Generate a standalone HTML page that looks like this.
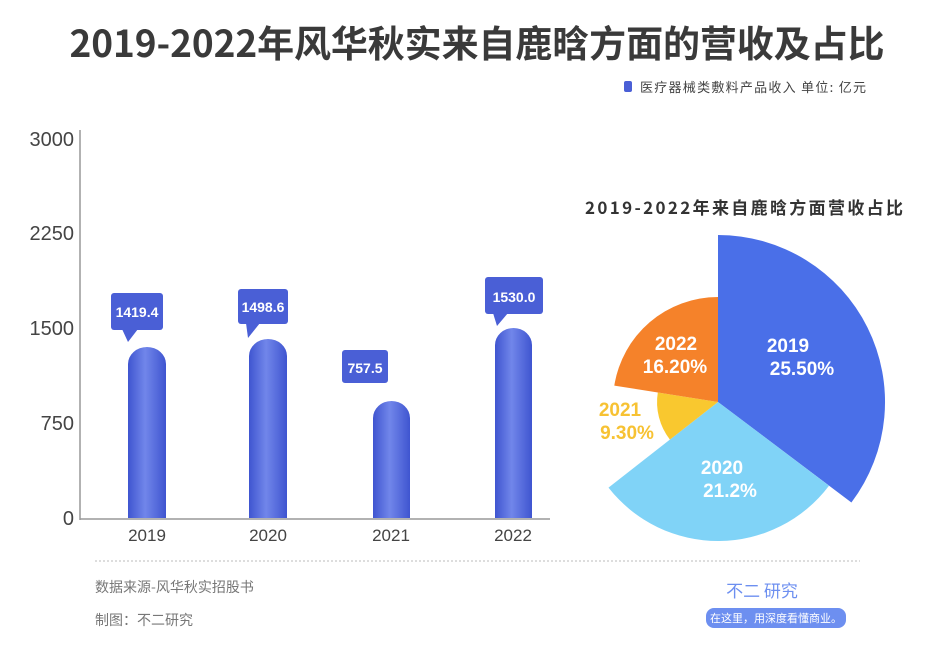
<!DOCTYPE html>
<html><head><meta charset="utf-8"><style>
body{margin:0;width:940px;height:644px;background:#fff;overflow:hidden;font-family:"Liberation Sans","Noto Sans CJK SC",sans-serif;}
</style></head><body>
<svg width="940" height="644" xmlns="http://www.w3.org/2000/svg" font-family="Liberation Sans, Noto Sans CJK SC, sans-serif">
<defs>
<linearGradient id="bg" x1="0" x2="1" y1="0" y2="0">
<stop offset="0" stop-color="#3f55d0"/><stop offset="0.45" stop-color="#7186ea"/><stop offset="1" stop-color="#3f55d0"/>
</linearGradient>
</defs>
<text x="477" y="57" text-anchor="middle" font-size="37" font-weight="bold" fill="#3a3a3a" font-family="Noto Sans CJK SC, sans-serif" textLength="815">2019-2022年风华秋实来自鹿晗方面的营收及占比</text>
<rect x="624" y="81" width="8" height="11" rx="2" fill="#4a5fd6"/>
<text x="640" y="92" font-size="13" fill="#444" font-family="Noto Sans CJK SC, sans-serif" textLength="226">医疗器械类敷料产品收入   单位: 亿元</text>
<!-- axis -->
<line x1="80" y1="130" x2="80" y2="520" stroke="#999" stroke-width="1.5"/>
<line x1="80" y1="519" x2="550" y2="519" stroke="#999" stroke-width="1.5"/>
<g font-size="20" fill="#444" text-anchor="end">
<text x="74" y="146">3000</text><text x="74" y="240">2250</text><text x="74" y="335">1500</text><text x="74" y="430">750</text><text x="74" y="525">0</text>
</g>
<g font-size="17" fill="#444" text-anchor="middle">
<text x="147" y="541">2019</text><text x="268" y="541">2020</text><text x="391" y="541">2021</text><text x="513" y="541">2022</text>
</g>
<!-- bars -->
<path d="M128 518 V364 a19 17 0 0 1 38 0 V518Z" fill="url(#bg)"/>
<path d="M249 518 V356 a19 17 0 0 1 38 0 V518Z" fill="url(#bg)"/>
<path d="M373 518 V418 a18.5 17 0 0 1 37 0 V518Z" fill="url(#bg)"/>
<path d="M495 518 V345 a18.5 17 0 0 1 37 0 V518Z" fill="url(#bg)"/>
<!-- labels -->
<g fill="#4a5fd6">
<rect x="111" y="293" width="52" height="37" rx="3"/><path d="M122 329 L128 342 L138 329Z"/>
<rect x="238" y="289" width="50" height="35" rx="3"/><path d="M246 323 L248 338 L260 323Z"/>
<rect x="342" y="350" width="46" height="33" rx="3"/>
<rect x="485" y="277" width="58" height="37" rx="3"/><path d="M493 313 L497 326 L508 313Z"/>
</g>
<g fill="#fff" font-size="14" font-weight="bold" text-anchor="middle">
<text x="137" y="317">1419.4</text><text x="263" y="312">1498.6</text><text x="365" y="373">757.5</text><text x="514" y="302">1530.0</text>
</g>
<line x1="95" y1="561" x2="860" y2="561" stroke="#bbb" stroke-dasharray="2,2"/>
<text x="95" y="592" font-size="14" fill="#777" font-family="Noto Sans CJK SC, sans-serif">数据来源-风华秋实招股书</text>
<text x="95" y="625" font-size="14" fill="#777" font-family="Noto Sans CJK SC, sans-serif">制图：不二研究</text>
<!-- pie -->
<text x="744" y="214" text-anchor="middle" font-size="17" font-weight="bold" fill="#333" font-family="Noto Sans CJK SC, sans-serif" textLength="318">2019-2022年来自鹿晗方面营收占比</text>
<path d="M718 402 L718 235 A167 167 0 0 1 851.4 502.5 Z" fill="#4a6fe8"/>
<path d="M718 402 L829 485.7 A139 139 0 0 1 608.5 487.6 Z" fill="#80d3f7"/>
<path d="M718 402 L669.9 439.6 A61 61 0 0 1 657.8 392.5 Z" fill="#f9c82f"/>
<path d="M718 402 L614.3 385.6 A105 105 0 0 1 718 297 Z" fill="#f5822a"/>
<g fill="#fff" font-size="19" font-weight="bold" text-anchor="middle">
<text x="788" y="352">2019</text><text x="802" y="375">25.50%</text>
<text x="722" y="474">2020</text><text x="730" y="497">21.2%</text>
<text x="676" y="350">2022</text><text x="675" y="373">16.20%</text>
</g>
<g fill="#f7c233" font-size="19" font-weight="bold" text-anchor="middle">
<text x="620" y="416">2021</text><text x="627" y="439">9.30%</text>
</g>
<!-- logo -->
<text x="762" y="597" text-anchor="middle" font-size="17" fill="#6d8ff0" font-family="Noto Sans CJK SC, sans-serif">不二 研究</text>
<rect x="706" y="608" width="140" height="20" rx="8" fill="#6d8ff0"/>
<text x="776" y="622" text-anchor="middle" font-size="11" fill="#fff" font-family="Noto Sans CJK SC, sans-serif">在这里，用深度看懂商业。</text>
</svg>
</body></html>
